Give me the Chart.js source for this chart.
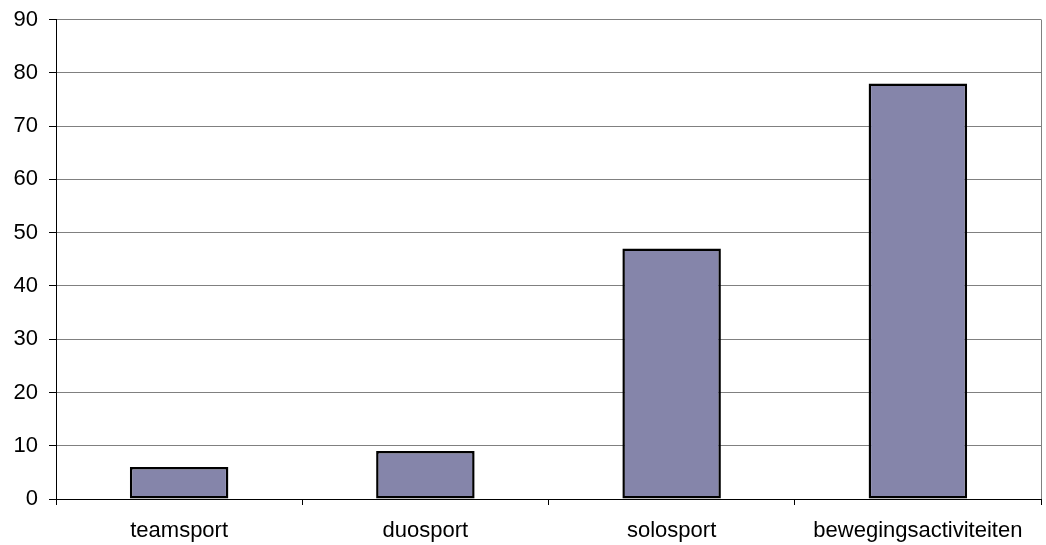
<!DOCTYPE html>
<html>
<head>
<meta charset="utf-8">
<script src="https://cdn.jsdelivr.net/npm/chart.js@4/dist/chart.umd.min.js"></script>
<style>
  html, body { margin: 0; padding: 0; background: #fff; }
  #wrap { width: 1046px; height: 545px; }
</style>
</head>
<body>
<div id="wrap"><canvas id="c" width="1046" height="545"></canvas></div>
<script>
const categories = ['teamsport', 'duosport', 'solosport', 'bewegingsactiviteiten'];
const values = [6, 9, 47, 78];
const yMin = 0;
const yMax = 90;
const yStep = 10;

// Thin grey frame line on the right side of the plot area
const rightFrame = {
  id: 'rightFrame',
  afterDraw(chart) {
    const { ctx, chartArea } = chart;
    ctx.save();
    ctx.strokeStyle = '#808080';
    ctx.lineWidth = 1;
    ctx.beginPath();
    ctx.moveTo(chartArea.right + 0.5, chartArea.top);
    ctx.lineTo(chartArea.right + 0.5, chartArea.bottom);
    ctx.stroke();
    ctx.restore();
  }
};

new Chart(document.getElementById('c'), {
  type: 'bar',
  data: {
    labels: categories,
    datasets: [{
      data: values,
      backgroundColor: '#8585AA',
      borderColor: '#000000',
      borderWidth: 2.5,
      borderSkipped: false,
      categoryPercentage: 0.4,
      barPercentage: 1.0
    }]
  },
  options: {
    responsive: false,
    animation: false,
    layout: { padding: { top: 19.5, right: 5, bottom: 0, left: 0 } },
    plugins: {
      legend: { display: false },
      tooltip: { enabled: false }
    },
    scales: {
      x: {
        offset: true,
        grid: {
          offset: true,
          drawOnChartArea: false,
          drawTicks: true,
          tickLength: 6,
          color: '#000000'
        },
        border: { color: '#000000', width: 1 },
        ticks: {
          color: '#000000',
          padding: 13,
          font: { family: 'Liberation Sans, Arial, sans-serif', size: 22 },
          maxRotation: 0,
          autoSkip: false
        },
        afterFit(scale) {
          scale.height = 46;
          scale.paddingLeft = 0;
          scale.paddingRight = 0;
        }
      },
      y: {
        min: yMin,
        max: yMax,
        grid: {
          color: '#808080',
          lineWidth: 1,
          drawTicks: true,
          tickLength: 7,
          tickColor: '#000000'
        },
        border: { color: '#000000', width: 1 },
        ticks: {
          stepSize: yStep,
          color: '#000000',
          padding: 11,
          font: { family: 'Liberation Sans, Arial, sans-serif', size: 22 }
        },
        afterFit(scale) {
          scale.width = 56;
          scale.paddingTop = 0;
          scale.paddingBottom = 0;
        }
      }
    }
  },
  plugins: [rightFrame]
});
</script>
</body>
</html>
